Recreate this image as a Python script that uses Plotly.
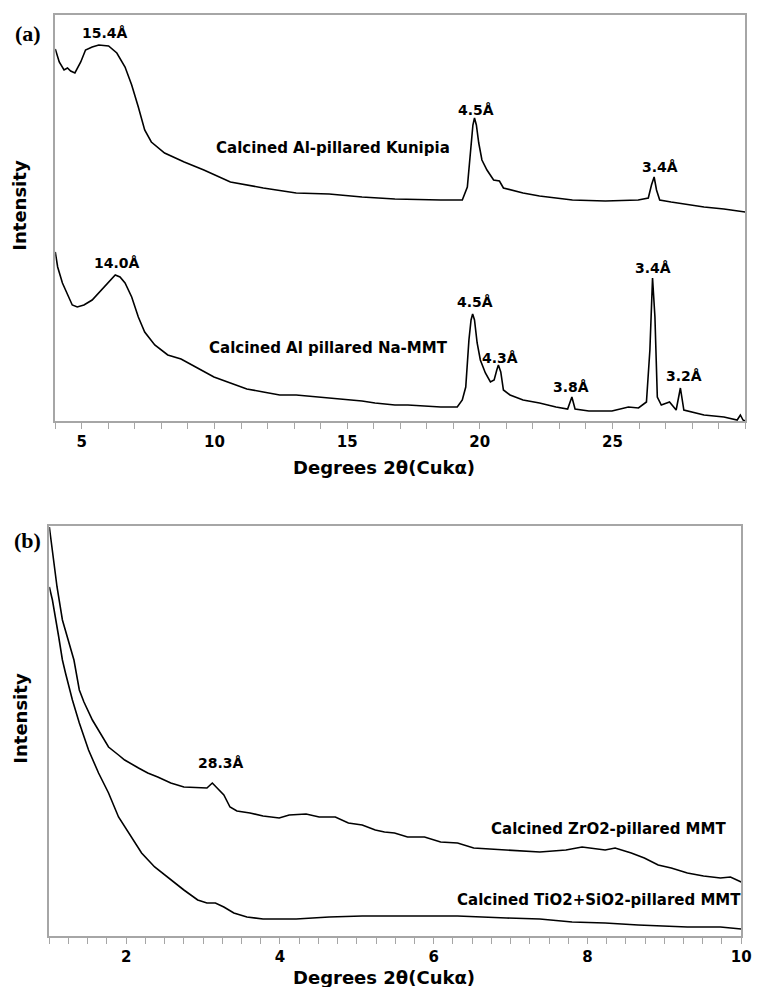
import plotly.graph_objects as go

# ---------------- Panel (a): 2theta (deg) vs intensity (arb.) ----------------
kun_x = [4.0, 4.15, 4.33, 4.46, 4.58, 4.74, 4.96, 5.14, 5.39, 5.64, 6.01, 6.32, 6.63, 6.88,
         7.13, 7.37, 7.62, 8.12, 8.86, 9.6, 10.6, 11.84, 13.08, 14.32, 15.56, 16.05, 16.8,
         18.53, 19.34, 19.53, 19.65, 19.74, 19.80, 19.87, 19.96, 20.08, 20.27, 20.52, 20.74,
         20.89, 21.63, 22.25, 23.49, 24.73, 25.97, 26.35, 26.47, 26.57, 26.66, 26.78, 27.21,
         28.45, 29.2, 30.0]
kun_y = [372, 359, 351, 353, 350, 348, 359, 371, 374, 376, 375, 368, 354, 336,
         314, 291, 279, 268, 259, 251, 239, 233, 228, 227, 224, 223, 222,
         221, 221, 234, 271, 296, 303, 296, 278, 261, 251, 241, 240,
         233, 228, 225, 221, 220, 221, 223, 236, 244, 231, 221, 219,
         214, 212, 209]

na_x = [4.0, 4.09, 4.27, 4.46, 4.64, 4.83, 5.08, 5.39, 5.64, 5.89, 6.07, 6.26, 6.44, 6.63,
        6.88, 7.13, 7.37, 7.75, 8.24, 8.74, 9.36, 9.98, 10.6, 11.22, 11.84, 12.46, 13.08,
        14.32, 15.56, 16.05, 16.8, 17.29, 18.53, 19.15, 19.34, 19.47, 19.59, 19.67, 19.73,
        19.8, 19.9, 20.02, 20.21, 20.4, 20.54, 20.64, 20.7, 20.79, 20.89, 21.14, 21.63,
        22.25, 22.87, 23.31, 23.47, 23.59, 24.11, 24.98, 25.6, 25.98, 26.28, 26.41, 26.51,
        26.6, 26.69, 26.84, 27.15, 27.4, 27.56, 27.69, 28.45, 29.2, 29.7, 29.82, 29.92, 30.0]
na_y = [169, 154, 138, 126, 116, 114, 116, 121, 128, 136, 141, 146, 144, 138,
        124, 104, 89, 76, 66, 62, 53, 44, 38, 32, 29, 26, 26,
        23, 20, 18, 16, 16, 14, 14, 21, 34, 81, 101, 107,
        101, 78, 61, 48, 39, 41, 51, 56, 49, 31, 26, 21,
        18, 14, 12, 24, 12, 10, 10, 14, 13, 19, 71, 143,
        104, 24, 16, 19, 11, 33, 11, 6, 4, 1, 6, 1, 0]

a_label_text = ["15.4Å", "Calcined Al-pillared Kunipia", "4.5Å", "3.4Å", "14.0Å",
                "Calcined Al pillared Na-MMT", "4.5Å", "4.3Å", "3.8Å", "3.4Å", "3.2Å"]
a_label_x = [5.86, 14.45, 19.85, 26.8, 6.34, 14.3, 19.81, 20.78, 23.42, 26.51, 27.7]
a_label_y = [388, 273, 311, 254, 158, 73, 119, 63, 34, 153, 45]
a_label_big = [False, True, False, False, False, True, False, False, False, False, False]

a_ticks = [5, 10, 15, 20, 25]

# ---------------- Panel (b) ----------------
zr_x = [1.0, 1.10, 1.17, 1.24, 1.32, 1.39, 1.45, 1.56, 1.64, 1.77, 1.9, 1.98, 2.16, 2.28,
        2.41, 2.58, 2.75, 2.93, 3.05, 3.12, 3.18, 3.27, 3.35, 3.44, 3.61, 3.78, 3.99, 4.12,
        4.34, 4.51, 4.72, 4.89, 5.07, 5.24, 5.36, 5.49, 5.66, 5.88, 6.09, 6.31, 6.52, 6.95,
        7.38, 7.72, 7.93, 8.23, 8.36, 8.57, 8.74, 8.92, 9.09, 9.3, 9.51, 9.73, 9.86, 10.0]
zr_y = [409, 349, 316, 296, 276, 246, 234, 216, 206, 189, 181, 176, 168, 163,
        159, 153, 149, 148, 148, 153, 148, 141, 129, 125, 123, 120, 118, 121,
        122, 119, 119, 113, 111, 106, 104, 103, 99, 99, 94, 93, 88, 86,
        84, 86, 89, 86, 88, 83, 78, 71, 68, 63, 60, 58, 59, 54]

ti_x = [1.0, 1.04, 1.12, 1.17, 1.21, 1.3, 1.39, 1.51, 1.64, 1.77, 1.9, 2.07, 2.2, 2.37,
        2.58, 2.75, 2.93, 3.05, 3.16, 3.27, 3.4, 3.57, 3.78, 4.21, 4.64, 5.07, 5.49, 5.66,
        6.31, 6.95, 7.38, 7.8, 8.23, 8.66, 9.09, 9.3, 9.73, 10.0]
ti_y = [349, 336, 300, 276, 263, 236, 213, 186, 163, 143, 119, 99, 83, 69,
        56, 46, 36, 33, 33, 29, 23, 19, 17, 17, 19, 20, 20, 20,
        20, 18, 17, 14, 13, 11, 10, 9, 9, 7]

b_label_text = ["28.3Å", "Calcined ZrO2-pillared MMT", "Calcined TiO2+SiO2-pillared MMT"]
b_label_x = [3.23, 8.27, 8.15]
b_label_y = [173, 107, 36]
b_label_big = [False, True, True]

b_ticks = [2, 4, 6, 8, 10]

x_title = "Degrees 2θ(Cukα)"
y_title = "Intensity"

W, H = 766, 987
SANS = "DejaVu Sans"
AXC = "#a6a6a6"

fig = go.Figure()
fig.add_trace(go.Scatter(x=kun_x, y=kun_y, mode="lines", line=dict(color="black", width=1.6),
                         xaxis="x", yaxis="y", showlegend=False))
fig.add_trace(go.Scatter(x=na_x, y=na_y, mode="lines", line=dict(color="black", width=1.6),
                         xaxis="x", yaxis="y", showlegend=False))
fig.add_trace(go.Scatter(x=zr_x, y=zr_y, mode="lines", line=dict(color="black", width=1.6),
                         xaxis="x2", yaxis="y2", showlegend=False))
fig.add_trace(go.Scatter(x=ti_x, y=ti_y, mode="lines", line=dict(color="black", width=1.6),
                         xaxis="x2", yaxis="y2", showlegend=False))

tickfont = dict(family=SANS, size=15, color="black", weight="bold")
common_x = dict(showline=True, mirror=True, linecolor=AXC, linewidth=1.5, showgrid=False,
                zeroline=False, ticks="outside", ticklen=6, tickcolor=AXC, tickwidth=1,
                tickfont=tickfont)
common_y = dict(showline=True, mirror=True, linecolor=AXC, linewidth=1.5, showgrid=False,
                zeroline=False, showticklabels=False, ticks="")

fig.update_layout(
    width=W, height=H, margin=dict(l=0, r=0, t=0, b=0),
    paper_bgcolor="white", plot_bgcolor="white",
    xaxis=dict(domain=[56 / W, 755 / W], range=[4, 30], anchor="y",
               tickmode="array", tickvals=a_ticks,
               minor=dict(dtick=1, tick0=0, ticks="outside", ticklen=6, tickcolor=AXC),
               **common_x),
    yaxis=dict(domain=[(H - 421) / H, (H - 15) / H], range=[0, 406], anchor="x", **common_y),
    xaxis2=dict(domain=[50 / W, 751 / W], range=[1, 10], anchor="y2",
                tickmode="array", tickvals=b_ticks,
                minor=dict(dtick=0.25, tick0=0, ticks="outside", ticklen=6, tickcolor=AXC),
                **common_x),
    yaxis2=dict(domain=[(H - 936) / H, (H - 526) / H], range=[0, 410], anchor="x2", **common_y),
)

ann = []
def lab_font(big):
    return dict(family=SANS, size=15 if big else 14, color="black", weight="bold")

for t, x, y, big in zip(a_label_text, a_label_x, a_label_y, a_label_big):
    ann.append(dict(text=t, x=x, y=y, xref="x", yref="y", showarrow=False,
                    xanchor="center", yanchor="middle", font=lab_font(big)))
for t, x, y, big in zip(b_label_text, b_label_x, b_label_y, b_label_big):
    ann.append(dict(text=t, x=x, y=y, xref="x2", yref="y2", showarrow=False,
                    xanchor="center", yanchor="middle", font=lab_font(big)))

title_font = dict(family=SANS, size=18, color="black", weight="bold")
# axis titles
ann.append(dict(text=x_title, x=389 / W, y=(H - 468) / H, xref="paper", yref="paper",
                showarrow=False, xanchor="center", yanchor="middle", font=title_font))
ann.append(dict(text=x_title, x=389 / W, y=(H - 977) / H, xref="paper", yref="paper",
                showarrow=False, xanchor="center", yanchor="middle", font=title_font))
ann.append(dict(text=y_title, x=20 / W, y=(H - 205) / H, xref="paper", yref="paper",
                showarrow=False, xanchor="center", yanchor="middle", textangle=-90,
                font=title_font))
ann.append(dict(text=y_title, x=20 / W, y=(H - 718) / H, xref="paper", yref="paper",
                showarrow=False, xanchor="center", yanchor="middle", textangle=-90,
                font=title_font))
# panel labels
panel_font = dict(family="Liberation Serif", size=22, color="black", weight="bold")
ann.append(dict(text="(a)", x=28 / W, y=(H - 33) / H, xref="paper", yref="paper",
                showarrow=False, xanchor="center", yanchor="middle", font=panel_font))
ann.append(dict(text="(b)", x=28 / W, y=(H - 540) / H, xref="paper", yref="paper",
                showarrow=False, xanchor="center", yanchor="middle", font=panel_font))

fig.update_layout(annotations=ann)
fig.write_html("out.html")
